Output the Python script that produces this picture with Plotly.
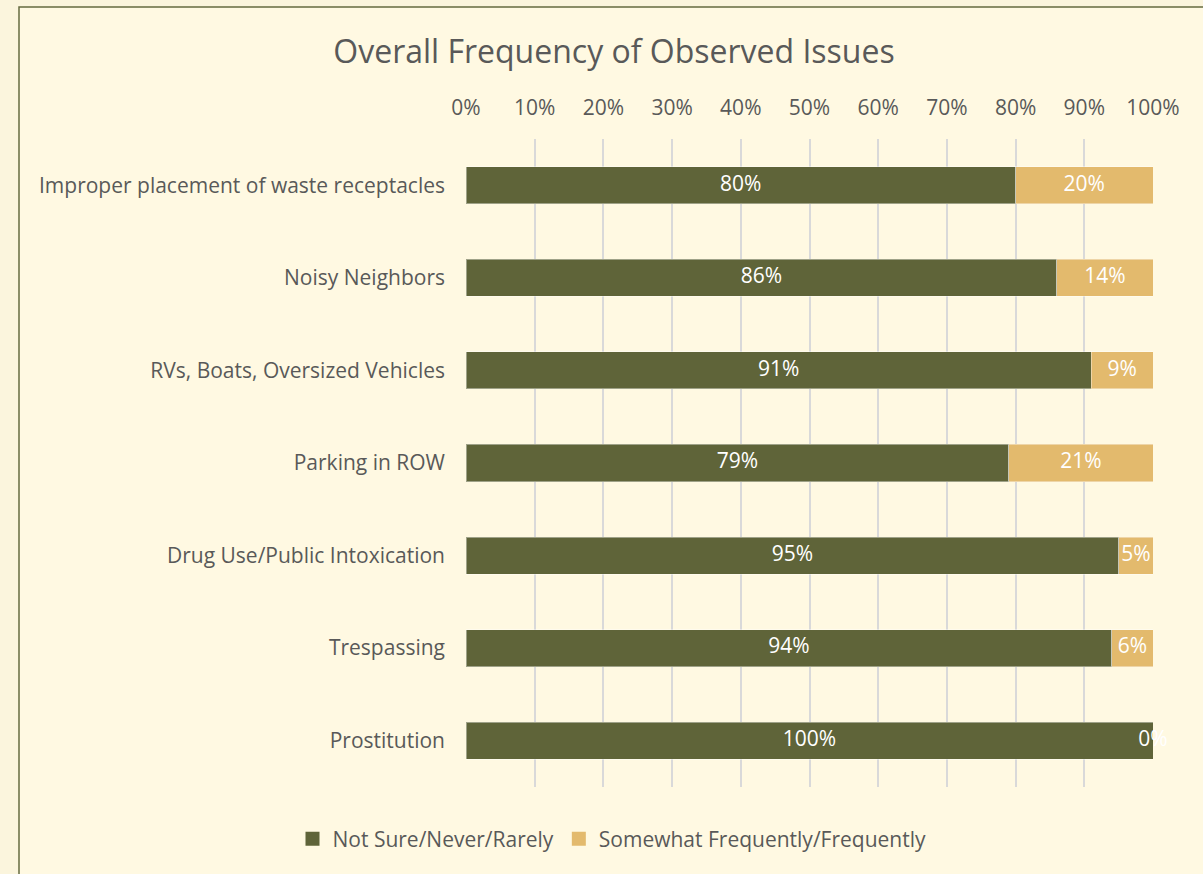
import plotly.graph_objects as go

categories = [
    "Improper placement of waste receptacles",
    "Noisy Neighbors",
    "RVs, Boats, Oversized Vehicles",
    "Parking in ROW",
    "Drug Use/Public Intoxication",
    "Trespassing",
    "Prostitution",
]
not_sure = [80, 86, 91, 79, 95, 94, 100]
frequent = [20, 14, 9, 21, 5, 6, 0]
series_names = ["Not Sure/Never/Rarely", "Somewhat Frequently/Frequently"]
tick_vals = [0, 10, 20, 30, 40, 50, 60, 70, 80, 90, 100]
tick_text = [f"{v}%" for v in tick_vals]

OLIVE = "#5F6439"
TAN = "#E3BA6D"
TEXT = "#595959"
FONT = "Open Sans"
FS = 21

fig = go.Figure()
fig.add_trace(go.Bar(
    y=categories, x=not_sure, orientation="h", name=series_names[0],
    marker=dict(color=OLIVE, line=dict(color="rgba(255,255,255,0.4)", width=1)),
    hoverinfo="skip", showlegend=False,
))
fig.add_trace(go.Bar(
    y=categories, x=frequent, orientation="h", name=series_names[1],
    marker=dict(color=TAN, line=dict(color="rgba(255,255,255,0.4)", width=1)),
    hoverinfo="skip", showlegend=False,
))

# data labels at segment centres
c1 = [a / 2 for a in not_sure]
c2 = [a + b / 2 for a, b in zip(not_sure, frequent)]
fig.add_trace(go.Scatter(
    y=categories, x=c1, mode="text", text=[f"{v}%" for v in not_sure],
    textfont=dict(color="white", size=FS, family=FONT), showlegend=False,
    hoverinfo="skip", cliponaxis=False,
))
fig.add_trace(go.Scatter(
    y=categories, x=c2, mode="text", text=[f"{v}%" for v in frequent],
    textfont=dict(color="white", size=FS, family=FONT), showlegend=False,
    hoverinfo="skip", cliponaxis=False,
))

# legend entries with square symbols
for nm, col in zip(series_names, [OLIVE, TAN]):
    fig.add_trace(go.Scatter(
        x=[None], y=[None], mode="markers", name=nm,
        marker=dict(symbol="square", size=14, color=col),
        hoverinfo="skip",
    ))

L, R, T, B = 466, 50, 139, 87
W, H = 1203, 874
pw = W - L - R
ph = H - T - B

def px_x(px):
    return (px - L) / pw

def px_y(py):
    return (H - B - py) / ph

fig.add_shape(
    type="rect", xref="paper", yref="paper",
    x0=px_x(19), x1=px_x(1210), y0=px_y(7), y1=px_y(880),
    fillcolor="#FFF9E2", line=dict(color="#666B40", width=1.5), layer="below",
)

fig.update_layout(
    width=W, height=H,
    margin=dict(l=L, r=R, t=T, b=B, pad=0),
    paper_bgcolor="#FBF5DD",
    plot_bgcolor="rgba(0,0,0,0)",
    barmode="stack",
    bargap=0.6,
    font=dict(family=FONT, size=FS, color=TEXT),
    title=dict(
        text="Overall Frequency of Observed Issues",
        x=px_x(614), xref="paper", xanchor="center",
        y=1 - 52 / H, yref="container", yanchor="middle",
        font=dict(size=32, color=TEXT, family=FONT),
    ),
    xaxis=dict(
        side="top", range=[0, 100], tickvals=tick_vals, ticktext=tick_text,
        showgrid=True, gridcolor="#D9D9D9", gridwidth=1.5,
        zeroline=False, showline=False, ticks="",
        ticklabelstandoff=19, fixedrange=True,
        tickfont=dict(size=FS, color=TEXT),
    ),
    yaxis=dict(
        categoryorder="array", categoryarray=categories, autorange="reversed",
        showgrid=False, zeroline=False, showline=False, ticks="",
        ticklabelstandoff=20, tickfont=dict(size=FS, color=TEXT),
        fixedrange=True,
    ),
    legend=dict(
        orientation="h", x=px_x(612), xanchor="center", y=px_y(839),
        yanchor="middle", font=dict(size=FS, color=TEXT),
        bgcolor="rgba(0,0,0,0)", traceorder="normal", itemwidth=30,
    ),
    showlegend=True,
)

fig.write_html(
    "out.html",
    config={"displayModeBar": False},
    post_script="document.body.style.margin='0';document.body.style.background='#FBF5DD';",
)
